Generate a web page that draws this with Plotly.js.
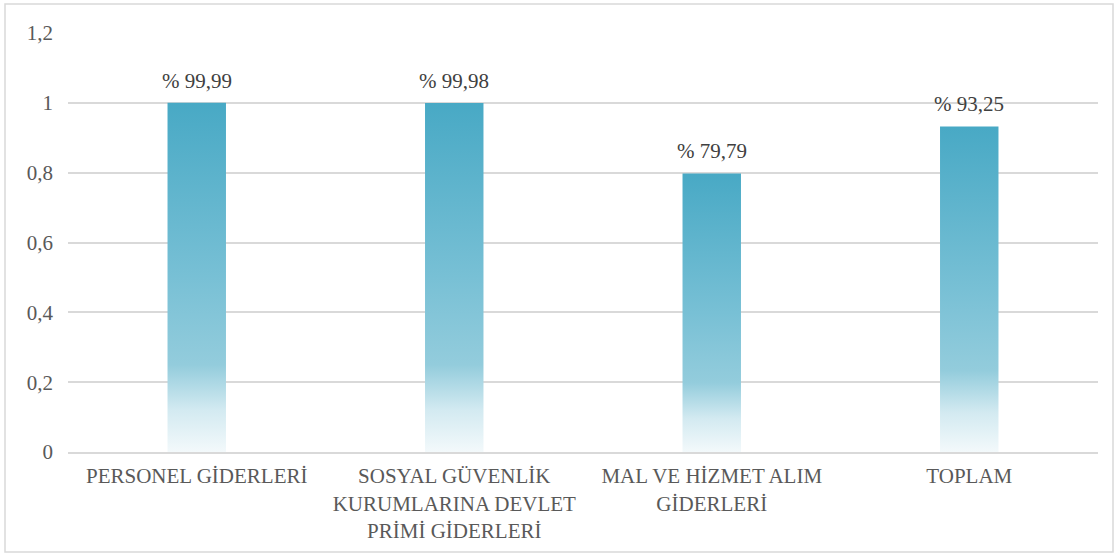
<!DOCTYPE html>
<html>
<head>
<meta charset="utf-8">
<script src="https://cdn.plot.ly/plotly-3.0.1.min.js"></script>
<style>
  html, body { margin: 0; padding: 0; background: #ffffff; }
  #chart { width: 1119px; height: 556px; }
</style>
</head>
<body>
<div id="chart"></div>
<script>
// ---- data ----
const categories = [
  "PERSONEL GİDERLERİ",
  "SOSYAL GÜVENLİK<br>KURUMLARINA DEVLET<br>PRİMİ GİDERLERİ",
  "MAL VE HİZMET ALIM<br>GİDERLERİ",
  "TOPLAM"
];
const values = [0.9999, 0.9998, 0.7979, 0.9325];
const valueLabels = ["% 99,99", "% 99,98", "% 79,79", "% 93,25"];
const yTickVals = [0, 0.2, 0.4, 0.6, 0.8, 1, 1.2];

// ---- styling ----
const barWidth = 0.227;
const fontFam = "Liberation Serif";
const gradient = [
  [0, "#F3F9FB"],
  [0.12, "#D3EAF1"],
  [0.25, "#93CCDC"],
  [0.5, "#78C0D5"],
  [1, "#48A9C5"]
];

const positions = categories.map((_, i) => i);

const traces = values.map((v, i) => {
  const c = positions[i];
  const l = c - barWidth / 2, r = c + barWidth / 2;
  return {
    type: "scatter",
    mode: "lines",
    x: [l, r, r, l, l],
    y: [0, 0, v, v, 0],
    fill: "toself",
    fillgradient: { type: "vertical", colorscale: gradient },
    line: { width: 0, color: "rgba(0,0,0,0)" },
    hoverinfo: "text",
    hoveron: "fills",
    text: valueLabels[i],
    showlegend: false
  };
});

const annotations = values.map((v, i) => ({
  x: positions[i],
  y: v,
  xref: "x",
  yref: "y",
  text: valueLabels[i],
  showarrow: false,
  yanchor: "middle",
  yshift: 22,
  font: { family: fontFam, size: 21, color: "#404040" }
}));

const layout = {
  width: 1119,
  height: 556,
  margin: { l: 68, r: 21, t: 33, b: 104 },
  paper_bgcolor: "#ffffff",
  plot_bgcolor: "#ffffff",
  separators: ", ",
  showlegend: false,
  font: { family: fontFam, size: 21, color: "#595959" },
  xaxis: {
    range: [-0.5, 3.5],
    tickvals: positions,
    ticktext: categories,
    showgrid: false,
    zeroline: false,
    showline: true,
    linecolor: "#D9D9D9",
    linewidth: 2,
    ticks: "",
    ticklabelstandoff: 4,
    tickfont: { family: fontFam, size: 21, color: "#595959" },
    fixedrange: true
  },
  yaxis: {
    range: [0, 1.2],
    tickvals: yTickVals,
    showgrid: true,
    gridcolor: "#D9D9D9",
    gridwidth: 2,
    zeroline: false,
    showline: false,
    ticks: "",
    ticklabelstandoff: 14,
    tickfont: { family: fontFam, size: 21, color: "#595959" },
    fixedrange: true
  },
  annotations: annotations,
  shapes: [{
    type: "rect",
    xref: "paper", yref: "paper",
    x0: (5 - 68) / 1030, x1: (1113 - 68) / 1030,
    y0: (452 - 552) / 419, y1: (452 - 4) / 419,
    line: { color: "#D9D9D9", width: 1.5 },
    fillcolor: "rgba(0,0,0,0)",
    layer: "below"
  }]
};

Plotly.newPlot("chart", traces, layout, { displayModeBar: false, responsive: false });
</script>
</body>
</html>
